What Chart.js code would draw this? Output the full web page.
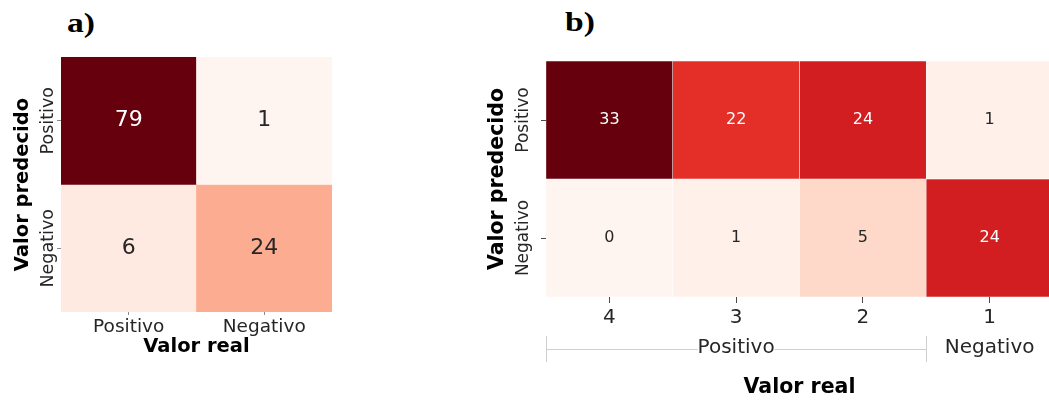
<!DOCTYPE html>
<html>
<head>
<meta charset="utf-8">
<script src="https://cdn.jsdelivr.net/npm/chart.js@4.4.1/dist/chart.umd.min.js"></script>
<style>
  html, body { margin: 0; padding: 0; background: #ffffff; width: 1049px; height: 400px; overflow: hidden; }
  .panel { position: absolute; top: 0; height: 400px; }
  #panelA { left: 0; width: 470px; }
  #panelB { left: 470px; width: 600px; }
  .tag {
    position: absolute; font-family: "Liberation Serif", "Times New Roman", serif;
    font-weight: bold; font-size: 28px; line-height: 28px; color: #000;
    transform: scaleX(1.2); transform-origin: left top;
  }
</style>
</head>
<body>
<div class="tag" style="left:67px; top:9px;">a)</div>
<div class="tag" style="left:565px; top:8px;">b)</div>
<div class="panel" id="panelA"><canvas id="chartA" width="470" height="400"></canvas></div>
<div class="panel" id="panelB"><canvas id="chartB" width="600" height="400"></canvas></div>

<script>
// ---- a) binary confusion matrix ----
const realLabelsA = ['Positivo', 'Negativo'];
const predLabelsA = ['Positivo', 'Negativo'];
const predPositivoA = [79, 1];
const predNegativoA = [6, 24];

// ---- b) confusion matrix by class ----
const realLabelsB = ['4', '3', '2', '1'];
const predLabelsB = ['Positivo', 'Negativo'];
const predPositivoB = [33, 22, 24, 1];
const predNegativoB = [0, 1, 5, 24];
const realGroupLabelsB = ['Positivo', 'Negativo'];
const realGroupSizesB = [3, 1];

// Sequential "Reds" palette (ColorBrewer, 9 classes)
const REDS = ['#fff5f0', '#fee0d2', '#fcbba1', '#fc9272', '#fb6a4a', '#ef3b2c', '#cb181d', '#a50f15', '#67000d'];

function hexToRgb(h) {
  return [1, 3, 5].map(i => parseInt(h.slice(i, i + 2), 16));
}
function reds(t) {
  t = Math.min(1, Math.max(0, t));
  const s = t * (REDS.length - 1);
  const i = Math.min(Math.floor(s), REDS.length - 2);
  const f = s - i;
  const a = hexToRgb(REDS[i]), b = hexToRgb(REDS[i + 1]);
  return a.map((c, k) => Math.round(c + (b[k] - c) * f));
}
function luminance(rgb) {
  const lin = rgb.map(c => {
    c /= 255;
    return c <= 0.03928 ? c / 12.92 : Math.pow((c + 0.055) / 1.055, 2.4);
  });
  return 0.2126 * lin[0] + 0.7152 * lin[1] + 0.0722 * lin[2];
}

Chart.defaults.font.family = "'DejaVu Sans', sans-serif";
Chart.defaults.color = '#262626';
Chart.defaults.animation = false;

// Rotated row labels next to the y ticks
const rowLabelPlugin = {
  id: 'rowLabels',
  afterDraw(chart, args, opts) {
    const ctx = chart.ctx, y = chart.scales.y;
    ctx.save();
    ctx.font = `${opts.size}px 'DejaVu Sans'`;
    ctx.fillStyle = '#262626';
    ctx.textAlign = 'center';
    ctx.textBaseline = 'middle';
    y.ticks.forEach((t, i) => {
      ctx.save();
      ctx.translate(opts.x, y.getPixelForValue(t.value));
      ctx.rotate(-Math.PI / 2);
      ctx.fillText(opts.labels[i], 0, 0);
      ctx.restore();
    });
    ctx.restore();
  }
};

// Count written in the middle of every cell
const cellValuePlugin = {
  id: 'cellValues',
  afterDatasetsDraw(chart, args, opts) {
    const ctx = chart.ctx;
    ctx.save();
    ctx.font = `${opts.size}px 'DejaVu Sans'`;
    ctx.textAlign = 'center';
    ctx.textBaseline = 'middle';
    chart.data.datasets.forEach((ds, di) => {
      chart.getDatasetMeta(di).data.forEach((bar, i) => {
        ctx.fillStyle = ds.textColors[i];
        ctx.fillText(String(ds.values[i]), bar.x, (bar.y + bar.base) / 2);
      });
    });
    ctx.restore();
  }
};

// Bracket grouping several x categories under a common label
const groupBracketPlugin = {
  id: 'groupBracket',
  afterDraw(chart, args, opts) {
    if (!opts.labels) return;
    const ctx = chart.ctx, x = chart.scales.x;
    const step = x.getPixelForValue(1) - x.getPixelForValue(0);
    ctx.save();
    ctx.font = `${opts.size}px 'DejaVu Sans'`;
    ctx.textAlign = 'center';
    ctx.textBaseline = 'middle';
    ctx.strokeStyle = opts.lineColor;
    ctx.lineWidth = 1;
    let start = 0;
    opts.labels.forEach((label, g) => {
      const n = opts.sizes[g];
      const left = x.getPixelForValue(start) - step / 2;
      const right = x.getPixelForValue(start + n - 1) + step / 2;
      const cx = (left + right) / 2;
      const w = ctx.measureText(label).width;
      ctx.beginPath();
      ctx.moveTo(Math.round(left) + 0.5, opts.y - opts.tick);
      ctx.lineTo(Math.round(left) + 0.5, opts.y + opts.tick);
      ctx.moveTo(Math.round(right) + 0.5, opts.y - opts.tick);
      ctx.lineTo(Math.round(right) + 0.5, opts.y + opts.tick);
      if (n > 1) {
        ctx.moveTo(left, opts.y + 0.5);
        ctx.lineTo(cx - w / 2, opts.y + 0.5);
        ctx.moveTo(cx + w / 2, opts.y + 0.5);
        ctx.lineTo(right, opts.y + 0.5);
      }
      ctx.stroke();
      ctx.fillStyle = '#262626';
      ctx.fillText(label, cx, opts.textY);
      start += n;
    });
    ctx.restore();
  }
};

function makeHeatmap(canvasId, spec) {
  const all = spec.rows.flat();
  const vmin = Math.min(...all), vmax = Math.max(...all);
  const datasets = spec.rows.map((vals, r) => {
    const fills = vals.map(v => reds((v - vmin) / (vmax - vmin)));
    return {
      label: spec.rowLabels[r],
      data: vals.map(() => [r, r + 1]),
      values: vals,
      backgroundColor: fills.map(c => `rgb(${c.join(',')})`),
      textColors: fills.map(c => (luminance(c) > 0.408 ? '#262626' : '#ffffff')),
      borderColor: '#ffffff',
      borderWidth: spec.cellGap,
      borderSkipped: false,
      grouped: false,
      barPercentage: 1,
      categoryPercentage: 1
    };
  });

  return new Chart(document.getElementById(canvasId), {
    type: 'bar',
    data: { labels: spec.colLabels, datasets },
    options: {
      responsive: false,
      animation: false,
      layout: { padding: spec.padding },
      plugins: {
        legend: { display: false },
        tooltip: { enabled: false },
        rowLabels: { labels: spec.rowLabels, x: spec.rowLabelX, size: spec.rowLabelSize },
        cellValues: { size: spec.valueSize },
        groupBracket: spec.groups || {}
      },
      scales: {
        x: {
          type: 'category',
          offset: true,
          grid: { display: true, offset: false, drawOnChartArea: false, drawTicks: true,
                  tickLength: spec.xTickLength, color: spec.tickColor },
          border: { display: false },
          ticks: { font: { size: spec.xTickSize }, color: '#262626', padding: spec.xTickPadding },
          title: { display: true, text: 'Valor real', color: '#000000',
                   font: { size: spec.titleSize, weight: 'bold' },
                   padding: { top: 0, bottom: spec.xTitlePad } },
          afterFit: s => { s.height = spec.xAxisHeight; }
        },
        y: {
          type: 'linear',
          reverse: true,
          min: 0,
          max: spec.rows.length,
          afterBuildTicks: s => { s.ticks = spec.rowLabels.map((_, i) => ({ value: i + 0.5 })); },
          grid: { display: true, drawOnChartArea: false, drawTicks: true,
                  tickLength: spec.yTickLength, color: spec.tickColor },
          border: { display: false },
          ticks: { display: false },
          title: { display: true, text: 'Valor predecido', color: '#000000',
                   font: { size: spec.titleSize, weight: 'bold' },
                   padding: { top: spec.yTitlePad, bottom: 0 } },
          afterFit: s => { s.width = spec.yAxisWidth; }
        }
      }
    },
    plugins: [rowLabelPlugin, cellValuePlugin, groupBracketPlugin]
  });
}

makeHeatmap('chartA', {
  rows: [predPositivoA, predNegativoA],
  rowLabels: predLabelsA,
  colLabels: realLabelsA,
  cellGap: 0,
  padding: { left: 0, top: 57, right: 138, bottom: 38 },
  yAxisWidth: 61,
  xAxisHeight: 50,
  xTickLength: 3,
  xTickPadding: 1,
  yTickLength: 4,
  tickColor: '#8a8a8a',
  xTickSize: 18.5,
  titleSize: 19.5,
  xTitlePad: 3,
  yTitlePad: 11,
  rowLabelX: 48,
  rowLabelSize: 17.5,
  valueSize: 22
});

makeHeatmap('chartB', {
  rows: [predPositivoB, predNegativoB],
  rowLabels: predLabelsB,
  colLabels: realLabelsB,
  cellGap: 0.5,
  padding: { left: 0, top: 61, right: 17, bottom: 0 },
  yAxisWidth: 76,
  xAxisHeight: 103,
  xTickLength: 6,
  xTickPadding: 3,
  yTickLength: 5,
  tickColor: '#4a4a4a',
  xTickSize: 20,
  titleSize: 20.5,
  xTitlePad: 0,
  yTitlePad: 15,
  rowLabelX: 54,
  rowLabelSize: 17,
  valueSize: 16,
  groups: { labels: realGroupLabelsB, sizes: realGroupSizesB, y: 349, textY: 348,
            tick: 13, size: 20, lineColor: '#cfcfcf' }
});
</script>
</body>
</html>
